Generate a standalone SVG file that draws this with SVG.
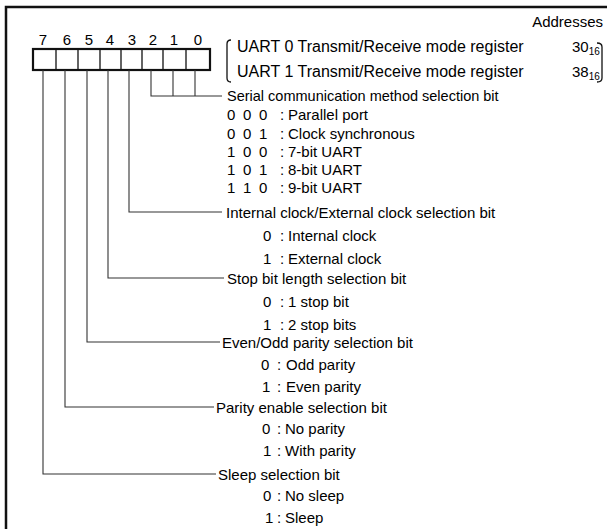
<svg xmlns="http://www.w3.org/2000/svg" width="607" height="529" viewBox="0 0 607 529">
<style>
text{font-family:"Liberation Sans",Arial,sans-serif;font-size:15px;fill:#000}
.big{font-size:16px}
.sm{font-size:14.5px}
.sub{font-size:10px}
.frame{fill:none;stroke:#111;stroke-width:2.5}
.box{fill:#fff;stroke:#111;stroke-width:2.2}
.cell{stroke:#111;stroke-width:1.3}
.conn{fill:none;stroke:#333;stroke-width:1.1}
.brk{fill:none;stroke:#111;stroke-width:1.3}
</style>
<rect width="607" height="529" fill="#fff"/>
<path class="frame" d="M6 529 V7 H607"/>
<text x="603" y="27" text-anchor="end">Addresses</text>

<g id="register">
<rect class="box" x="33" y="49" width="177" height="21"/>
<path class="cell" d="M56 49V70M78 49V70M100 49V70M121 49V70M142 49V70M163 49V70M186 49V70"/>
<g text-anchor="middle" class="big">
<text x="43" y="45">7</text><text x="67" y="45">6</text><text x="89" y="45">5</text><text x="110" y="45">4</text>
<text x="132" y="45">3</text><text x="153" y="45">2</text><text x="174" y="45">1</text><text x="198" y="45">0</text>
</g>
</g>

<g id="registers-list">
<path class="brk" d="M231 40 Q227 40 227 44 V78 Q227 82 231 82"/>
<text class="big" x="237" y="52">UART 0 Transmit/Receive mode register</text>
<text class="big" x="237" y="77">UART 1 Transmit/Receive mode register</text>
<text x="572" y="52">30<tspan class="sub" dy="3">16</tspan></text>
<text x="572" y="77">38<tspan class="sub" dy="3">16</tspan></text>
<path class="brk" d="M597 43 Q602 43 602 47 V78 Q602 82 597 82"/>
</g>

<g id="connectors">
<path class="conn" d="M151 70V96H222M173 70V96M195 70V96"/>
<path class="conn" d="M129 70V212H222"/>
<path class="conn" d="M108 70V278H224"/>
<path class="conn" d="M87 70V342H220"/>
<path class="conn" d="M65 70V407H214"/>
<path class="conn" d="M43 70V474H216"/>
</g>

<g id="bits-2-0">
<text class="sm" x="227" y="101">Serial communication method selection bit</text>
<text x="227 243 259" y="120">000</text><text x="280" y="120">:</text><text x="288" y="120">Parallel port</text>
<text x="227 243 259" y="139">001</text><text x="280" y="139">:</text><text x="288" y="139">Clock synchronous</text>
<text x="227 243 259" y="157">100</text><text x="280" y="157">:</text><text x="288" y="157">7-bit UART</text>
<text x="227 243 259" y="175">101</text><text x="280" y="175">:</text><text x="288" y="175">8-bit UART</text>
<text x="227 243 259" y="193">110</text><text x="280" y="193">:</text><text x="288" y="193">9-bit UART</text>
</g>

<g id="bit-3">
<text x="226" y="218">Internal clock/External clock selection bit</text>
<text x="263" y="241">0</text><text x="280" y="241">:</text><text x="288" y="241">Internal clock</text>
<text x="263" y="264">1</text><text x="280" y="264">:</text><text x="288" y="264">External clock</text>
</g>

<g id="bit-4">
<text x="227" y="284">Stop bit length selection bit</text>
<text x="263" y="307">0</text><text x="280" y="307">:</text><text x="288" y="307">1 stop bit</text>
<text x="263" y="330">1</text><text x="280" y="330">:</text><text x="288" y="330">2 stop bits</text>
</g>

<g id="bit-5">
<text x="222" y="348">Even/Odd parity selection bit</text>
<text x="261" y="370">0</text><text x="277" y="370">:</text><text x="286" y="370">Odd parity</text>
<text x="262" y="392">1</text><text x="277" y="392">:</text><text x="286" y="392">Even parity</text>
</g>

<g id="bit-6">
<text x="216" y="413">Parity enable selection bit</text>
<text x="262" y="434">0</text><text x="277" y="434">:</text><text x="285" y="434">No parity</text>
<text x="263" y="456">1</text><text x="277" y="456">:</text><text x="285" y="456">With parity</text>
</g>

<g id="bit-7">
<text x="218" y="480">Sleep selection bit</text>
<text x="263" y="501">0</text><text x="277" y="501">:</text><text x="285" y="501">No sleep</text>
<text x="265" y="523">1</text><text x="277" y="523">:</text><text x="285" y="523">Sleep</text>
</g>
</svg>
